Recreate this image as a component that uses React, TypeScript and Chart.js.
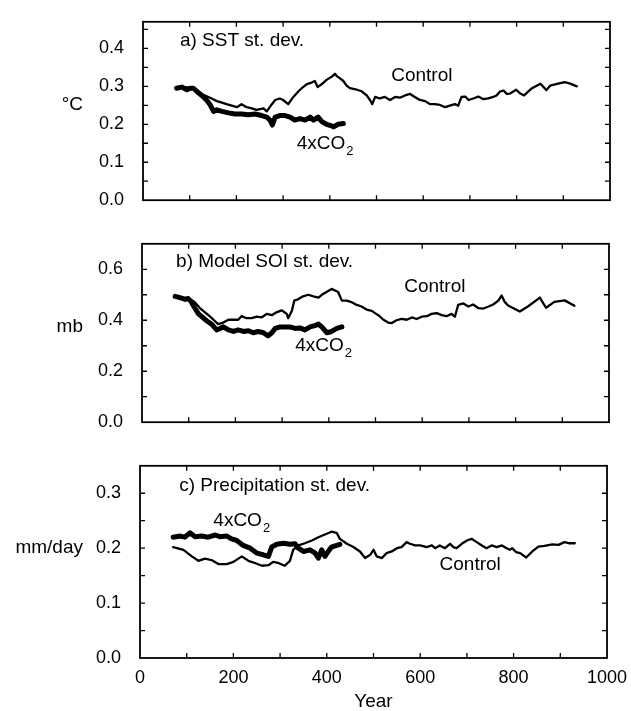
import React, { useEffect, useRef } from 'react';
import { Chart, registerables } from 'chart.js';

Chart.register(...registerables);

const FONT = '"Liberation Sans", Arial, Helvetica, sans-serif';

// ---------- shared x axis ----------
const xTicks = [0, 100, 200, 300, 400, 500, 600, 700, 800, 900, 1000];
const xTickLabels = ['0', '', '200', '', '400', '', '600', '', '800', '', '1000'];

// ---------- panel a: SST st. dev. (°C) ----------
const sstTicks = [0, 0.05, 0.1, 0.15, 0.2, 0.25, 0.3, 0.35, 0.4, 0.45];
const sstTickLabels = ['0.0', '', '0.1', '', '0.2', '', '0.3', '', '0.4', ''];
const sstControlYears = [72, 90, 108, 118, 133, 147, 158, 169, 179, 190, 201, 211, 222, 233, 243, 258, 265, 276, 283, 293, 300, 311, 322, 333, 340, 351, 361, 368, 374, 383, 393, 404, 411, 415, 422, 429, 436, 443, 458, 468, 479, 486, 491, 497, 507, 518, 529, 540, 550, 561, 572, 582, 593, 604, 615, 625, 636, 647, 657, 668, 675, 682, 690, 697, 707, 718, 729, 739, 750, 757, 764, 772, 779, 786, 799, 807, 816, 833, 851, 864, 872, 889, 903, 915, 929];
const sstControlValues = [0.295, 0.298, 0.295, 0.280, 0.276, 0.268, 0.261, 0.257, 0.253, 0.249, 0.245, 0.253, 0.245, 0.242, 0.238, 0.242, 0.234, 0.253, 0.264, 0.268, 0.264, 0.253, 0.272, 0.287, 0.295, 0.306, 0.310, 0.314, 0.298, 0.306, 0.317, 0.325, 0.333, 0.327, 0.321, 0.314, 0.302, 0.295, 0.291, 0.287, 0.276, 0.264, 0.253, 0.272, 0.268, 0.272, 0.264, 0.272, 0.270, 0.276, 0.280, 0.272, 0.264, 0.261, 0.253, 0.253, 0.251, 0.245, 0.249, 0.253, 0.249, 0.272, 0.273, 0.264, 0.268, 0.273, 0.266, 0.268, 0.272, 0.276, 0.286, 0.289, 0.280, 0.281, 0.291, 0.282, 0.276, 0.295, 0.307, 0.290, 0.302, 0.307, 0.311, 0.307, 0.300];
const sstCO2Years = [72, 83, 94, 101, 108, 115, 126, 136, 143, 151, 158, 169, 183, 197, 211, 225, 240, 254, 265, 272, 277, 283, 293, 304, 315, 325, 336, 347, 358, 365, 375, 383, 393, 404, 408, 418, 429];
const sstCO2Values = [0.295, 0.298, 0.291, 0.295, 0.295, 0.287, 0.276, 0.264, 0.253, 0.234, 0.238, 0.234, 0.230, 0.227, 0.227, 0.225, 0.227, 0.223, 0.219, 0.211, 0.198, 0.219, 0.223, 0.223, 0.219, 0.211, 0.215, 0.211, 0.219, 0.211, 0.219, 0.207, 0.200, 0.196, 0.193, 0.200, 0.202];

// ---------- panel b: Model SOI st. dev. (mb) ----------
const soiTicks = [0, 0.1, 0.2, 0.3, 0.4, 0.5, 0.6];
const soiTickLabels = ['0.0', '', '0.2', '', '0.4', '', '0.6'];
const soiControlYears = [71, 78, 92, 103, 113, 124, 135, 146, 156, 163, 174, 185, 196, 206, 213, 224, 235, 246, 256, 267, 278, 288, 299, 310, 313, 321, 326, 335, 345, 356, 367, 378, 385, 395, 406, 420, 428, 438, 449, 460, 470, 481, 492, 499, 506, 517, 527, 535, 545, 556, 567, 578, 588, 599, 610, 620, 631, 642, 652, 663, 670, 677, 688, 699, 709, 720, 731, 742, 752, 763, 770, 777, 784, 788, 809, 827, 852, 865, 883, 905, 926];
const soiControlValues = [0.494, 0.489, 0.477, 0.483, 0.471, 0.448, 0.431, 0.414, 0.397, 0.385, 0.391, 0.402, 0.402, 0.402, 0.416, 0.408, 0.408, 0.414, 0.411, 0.425, 0.420, 0.431, 0.439, 0.425, 0.408, 0.437, 0.477, 0.483, 0.494, 0.500, 0.494, 0.489, 0.500, 0.511, 0.523, 0.511, 0.477, 0.477, 0.471, 0.460, 0.454, 0.442, 0.437, 0.428, 0.420, 0.402, 0.391, 0.389, 0.400, 0.405, 0.402, 0.411, 0.405, 0.414, 0.416, 0.425, 0.428, 0.420, 0.416, 0.425, 0.414, 0.460, 0.466, 0.454, 0.462, 0.448, 0.446, 0.454, 0.462, 0.477, 0.497, 0.471, 0.458, 0.454, 0.434, 0.455, 0.489, 0.449, 0.472, 0.478, 0.457];
const soiCO2Years = [71, 81, 92, 99, 106, 113, 121, 128, 139, 149, 160, 167, 174, 185, 196, 206, 217, 228, 238, 249, 260, 270, 278, 285, 296, 306, 317, 328, 338, 349, 360, 370, 378, 385, 396, 406, 417, 428];
const soiCO2Values = [0.494, 0.489, 0.483, 0.485, 0.471, 0.448, 0.425, 0.414, 0.397, 0.385, 0.362, 0.368, 0.374, 0.362, 0.356, 0.362, 0.356, 0.359, 0.351, 0.356, 0.351, 0.339, 0.351, 0.368, 0.374, 0.374, 0.374, 0.368, 0.370, 0.362, 0.374, 0.379, 0.385, 0.374, 0.351, 0.356, 0.368, 0.374];

// ---------- panel c: Precipitation st. dev. (mm/day) ----------
const precTicks = [0, 0.05, 0.1, 0.15, 0.2, 0.25, 0.3];
const precTickLabels = ['0.0', '', '0.1', '', '0.2', '', '0.3'];
const precControlYears = [71, 93, 111, 125, 139, 154, 168, 186, 200, 218, 232, 246, 261, 275, 285, 296, 310, 321, 328, 339, 353, 368, 382, 396, 410, 421, 428, 443, 457, 471, 482, 493, 500, 507, 518, 528, 539, 550, 560, 571, 578, 589, 600, 614, 625, 632, 642, 653, 664, 671, 678, 689, 700, 710, 721, 732, 742, 753, 764, 775, 785, 792, 797, 805, 814, 827, 840, 853, 866, 883, 896, 909, 918, 931];
const precControlValues = [0.202, 0.197, 0.185, 0.177, 0.181, 0.178, 0.171, 0.171, 0.175, 0.185, 0.177, 0.173, 0.168, 0.169, 0.175, 0.173, 0.168, 0.177, 0.197, 0.205, 0.209, 0.214, 0.220, 0.225, 0.230, 0.228, 0.217, 0.208, 0.202, 0.194, 0.182, 0.188, 0.197, 0.185, 0.182, 0.191, 0.194, 0.200, 0.202, 0.211, 0.208, 0.205, 0.205, 0.202, 0.205, 0.200, 0.205, 0.200, 0.208, 0.202, 0.200, 0.208, 0.214, 0.217, 0.211, 0.205, 0.200, 0.205, 0.202, 0.205, 0.200, 0.197, 0.200, 0.193, 0.191, 0.183, 0.194, 0.203, 0.204, 0.207, 0.206, 0.211, 0.209, 0.209];
const precCO2Years = [71, 86, 96, 107, 118, 132, 146, 161, 171, 186, 196, 207, 221, 236, 250, 264, 275, 282, 293, 307, 321, 332, 339, 350, 364, 375, 382, 389, 396, 403, 410, 421, 428];
const precCO2Values = [0.220, 0.222, 0.220, 0.228, 0.221, 0.222, 0.220, 0.224, 0.221, 0.222, 0.217, 0.214, 0.205, 0.200, 0.191, 0.188, 0.185, 0.202, 0.207, 0.209, 0.207, 0.208, 0.200, 0.194, 0.197, 0.191, 0.182, 0.197, 0.185, 0.194, 0.202, 0.205, 0.207];

type Label = { text: string; sub?: string; x: number; y: number; align: 'left' | 'center' | 'right' };
type Series = { years: number[]; values: number[]; width: number };
type PanelSpec = {
  top: number;
  height: number;
  padTop: number;
  padBottom: number;
  left: number;
  right: number;
  xAxisHeight: number;
  showX: boolean;
  yMax: number;
  yTicks: number[];
  yTickLabels: string[];
  title: Label;
  yTitle: string;
  yTitleValue: number;
  labels: Label[];
  series: Series[];
};

const panels: PanelSpec[] = [
  {
    top: 0, height: 222, padTop: 10, padBottom: 10, left: 143, right: 610, xAxisHeight: 0, showX: false,
    yMax: 0.47, yTicks: sstTicks, yTickLabels: sstTickLabels,
    title: { text: 'a) SST st. dev.', x: 79, y: 0.419, align: 'left' },
    yTitle: '°C', yTitleValue: 0.252,
    labels: [
      { text: 'Control', x: 597, y: 0.327, align: 'center' },
      { text: '4xCO', sub: '2', x: 329, y: 0.149, align: 'left' },
    ],
    series: [
      { years: sstControlYears, values: sstControlValues, width: 2.3 },
      { years: sstCO2Years, values: sstCO2Values, width: 5 },
    ],
  },
  {
    top: 222, height: 222, padTop: 10, padBottom: 9, left: 142, right: 609, xAxisHeight: 0, showX: false,
    yMax: 0.7, yTicks: soiTicks, yTickLabels: soiTickLabels,
    title: { text: 'b) Model SOI st. dev.', x: 73, y: 0.628, align: 'left' },
    yTitle: 'mb', yTitleValue: 0.376,
    labels: [
      { text: 'Control', x: 627, y: 0.531, align: 'center' },
      { text: '4xCO', sub: '2', x: 328, y: 0.3, align: 'left' },
    ],
    series: [
      { years: soiControlYears, values: soiControlValues, width: 2.3 },
      { years: soiCO2Years, values: soiCO2Values, width: 5 },
    ],
  },
  {
    top: 444, height: 267, padTop: 10, padBottom: 0, left: 140, right: 607, xAxisHeight: 53, showX: true,
    yMax: 0.35, yTicks: precTicks, yTickLabels: precTickLabels,
    title: { text: 'c) Precipitation st. dev.', x: 84, y: 0.314, align: 'left' },
    yTitle: 'mm/day', yTitleValue: 0.2,
    labels: [
      { text: '4xCO', sub: '2', x: 157, y: 0.249, align: 'left' },
      { text: 'Control', x: 707, y: 0.17, align: 'center' },
    ],
    series: [
      { years: precControlYears, values: precControlValues, width: 2.3 },
      { years: precCO2Years, values: precCO2Values, width: 5 },
    ],
  },
];

function drawText(ctx: CanvasRenderingContext2D, lab: { text: string; sub?: string; align: string }, x: number, y: number, size: number) {
  ctx.font = `${size}px ${FONT}`;
  const w1 = ctx.measureText(lab.text).width;
  const subSize = Math.round(size * 0.66);
  let w2 = 0;
  if (lab.sub) {
    ctx.font = `${subSize}px ${FONT}`;
    w2 = ctx.measureText(lab.sub).width + 1;
  }
  const total = w1 + w2;
  const x0 = lab.align === 'left' ? x : lab.align === 'center' ? x - total / 2 : x - total;
  ctx.textAlign = 'left';
  ctx.textBaseline = 'middle';
  ctx.fillStyle = '#000';
  ctx.font = `${size}px ${FONT}`;
  ctx.fillText(lab.text, x0, y);
  if (lab.sub) {
    ctx.font = `${subSize}px ${FONT}`;
    ctx.fillText(lab.sub, x0 + w1 + 1, y + size * 0.4);
  }
}

function makeDecor(spec: PanelSpec) {
  return {
    id: 'decor',
    afterDraw(chart: any) {
      const ctx: CanvasRenderingContext2D = chart.ctx;
      const { left, right, top, bottom } = chart.chartArea;
      const xs = chart.scales.x;
      const ys = chart.scales.y;
      ctx.save();
      ctx.strokeStyle = '#000';
      ctx.lineWidth = 1.8;
      ctx.strokeRect(left, top, right - left, bottom - top);
      const tl = 5;
      ctx.lineWidth = 1.3;
      ctx.beginPath();
      for (const t of xs.ticks) {
        const px = xs.getPixelForValue(t.value);
        if (px <= left + 1 || px >= right - 1) continue;
        ctx.moveTo(px, bottom);
        ctx.lineTo(px, bottom - tl);
        ctx.moveTo(px, top);
        ctx.lineTo(px, top + tl);
      }
      for (const t of ys.ticks) {
        const py = ys.getPixelForValue(t.value);
        if (py >= bottom - 1 || py <= top + 1) continue;
        ctx.moveTo(left, py);
        ctx.lineTo(left + tl, py);
        ctx.moveTo(right, py);
        ctx.lineTo(right - tl, py);
      }
      ctx.stroke();

      drawText(ctx, spec.title, xs.getPixelForValue(spec.title.x), ys.getPixelForValue(spec.title.y), 19);
      for (const lab of spec.labels) {
        drawText(ctx, lab, xs.getPixelForValue(lab.x), ys.getPixelForValue(lab.y), 19);
      }
      drawText(ctx, { text: spec.yTitle, align: 'right' }, 83, ys.getPixelForValue(spec.yTitleValue), 19);
      ctx.restore();
    },
  };
}

function Panel({ spec }: { spec: PanelSpec }) {
  const ref = useRef<HTMLCanvasElement | null>(null);
  useEffect(() => {
    if (!ref.current) return;
    const datasets = spec.series.map((s) => ({
      data: s.years.map((yr, i) => ({ x: yr, y: s.values[i] })),
      borderColor: '#000',
      backgroundColor: '#000',
      borderWidth: s.width,
      pointRadius: 0,
      tension: 0,
      fill: false,
      borderJoinStyle: 'round' as const,
      borderCapStyle: 'round' as const,
    }));
    const chart = new Chart(ref.current, {
      type: 'line',
      data: { datasets },
      options: {
        responsive: false,
        maintainAspectRatio: false,
        animation: false,
        layout: { padding: { left: 0, right: 631 - spec.right, top: spec.padTop, bottom: spec.padBottom } },
        plugins: { legend: { display: false }, tooltip: { enabled: false } },
        scales: {
          x: {
            type: 'linear',
            min: 0,
            max: 1000,
            grid: { display: false },
            border: { display: false },
            ticks: {
              display: spec.showX,
              autoSkip: false,
              maxRotation: 0,
              padding: 1,
              color: '#000',
              font: { family: FONT, size: 18 },
              callback: (_v: any, i: number) => xTickLabels[i],
            },
            afterBuildTicks: (s: any) => {
              s.ticks = xTicks.map((v) => ({ value: v }));
            },
            afterFit: (s: any) => {
              s.height = spec.xAxisHeight;
            },
            title: {
              display: spec.showX,
              text: 'Year',
              color: '#000',
              font: { family: FONT, size: 19, lineHeight: 1 },
              padding: { top: 0, bottom: 0 },
            },
          },
          y: {
            type: 'linear',
            position: 'left',
            min: 0,
            max: spec.yMax,
            grid: { display: false },
            border: { display: false },
            ticks: {
              autoSkip: false,
              padding: 11,
              color: '#000',
              font: { family: FONT, size: 18 },
              callback: (_v: any, i: number) => spec.yTickLabels[i],
            },
            afterBuildTicks: (s: any) => {
              s.ticks = spec.yTicks.map((v) => ({ value: v }));
            },
            afterFit: (s: any) => {
              s.width = spec.left;
            },
          },
        },
      } as any,
      plugins: [makeDecor(spec)],
    });
    return () => chart.destroy();
  }, [spec]);
  return (
    <canvas
      ref={ref}
      width={631}
      height={spec.height}
      style={{ position: 'absolute', left: 0, top: spec.top, width: 631, height: spec.height, display: 'block' }}
    />
  );
}

export default function App() {
  return (
    <div style={{ position: 'fixed', left: 0, top: 0, width: 631, height: 711, background: '#fff' }}>
      {panels.map((p, i) => (
        <Panel key={i} spec={p} />
      ))}
    </div>
  );
}
